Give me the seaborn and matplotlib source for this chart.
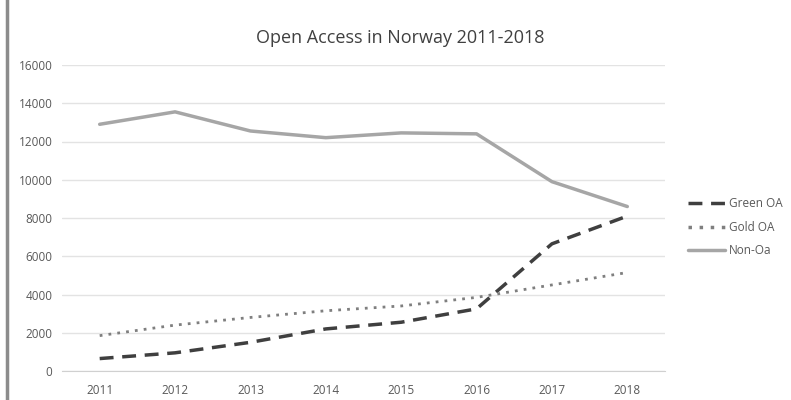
from matplotlib import pyplot as plt
from matplotlib.patches import Rectangle
import pandas as pd
import seaborn as sns

years = [2011, 2012, 2013, 2014, 2015, 2016, 2017, 2018]
green_oa = [650, 950, 1500, 2200, 2550, 3250, 6650, 8100]
gold_oa = [1850, 2400, 2800, 3150, 3400, 3850, 4500, 5150]
non_oa = [12900, 13550, 12550, 12200, 12450, 12400, 9900, 8600]
series = ["Green OA", "Gold OA", "Non-Oa"]

df = pd.DataFrame({
    "year": years * 3,
    "value": green_oa + gold_oa + non_oa,
    "serie": [s for s in series for _ in years],
})

sns.set_style("white")
plt.rcParams["font.family"] = ["Open Sans", "DejaVu Sans"]

fig = plt.figure(figsize=(7.91, 4.0), dpi=100)
ax = fig.add_axes([62 / 791, 29 / 400, 603 / 791, 306 / 400])

# ramecek okolo celeho grafu
fig.patches.append(Rectangle((7 / 791, -0.01), 0.995, 1.02, transform=fig.transFigure,
                             fill=False, edgecolor="#8c8c8c", linewidth=2.5))

palette = {"Green OA": "#3f3f3f", "Gold OA": "#7f7f7f", "Non-Oa": "#a6a6a6"}
dashes = {"Green OA": (4, 2.5), "Gold OA": (1, 2.2), "Non-Oa": ""}

sns.lineplot(data=df, x="year", y="value", hue="serie", style="serie",
             palette=palette, dashes=dashes, linewidth=2.5, ax=ax)
ax.lines[1].set_linewidth(2.0)  # tecky o neco tenci

ax.set_xlim(2010.5, 2018.5)
ax.set_ylim(0, 16000)
ax.set_yticks(range(0, 16001, 2000))
ax.set_xticks(years)
ax.set_xticklabels([str(y) for y in years])
ax.set_xlabel("")
ax.set_ylabel("")
ax.grid(axis="y", color="#e3e3e3", linewidth=1)
ax.grid(axis="x", visible=False)
for s in ["top", "right", "left"]:
    ax.spines[s].set_visible(False)
ax.spines["bottom"].set_color("#d0d0d0")
ax.tick_params(axis="both", length=0, labelsize=8.5, colors="#595959", pad=9)
ax.tick_params(axis="y", pad=7)

fig.text(400 / 791, 1 - 38 / 400, "Open Access in Norway 2011-2018",
         ha="center", va="center", fontsize=13, color="#404040")

leg = ax.legend(loc="center left", bbox_to_anchor=(1.02, 0.47), frameon=False,
                fontsize=8.5, handlelength=3.2, labelspacing=0.9, handletextpad=0.3)
for t in leg.get_texts():
    t.set_color("#595959")

fig.savefig("out.png", dpi=100)
